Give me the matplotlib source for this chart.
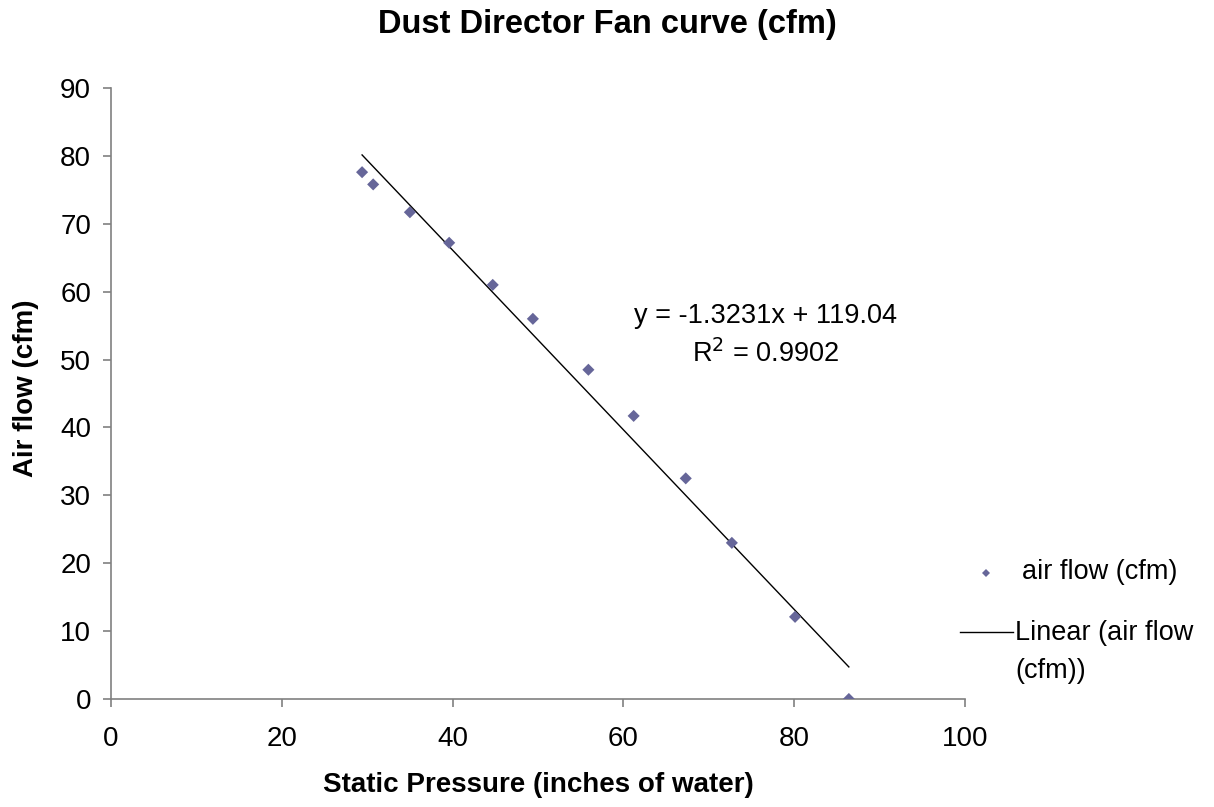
import numpy as np
from matplotlib import pyplot as plt
from matplotlib.lines import Line2D

plt.rcParams['font.family'] = ['Liberation Sans', 'DejaVu Sans']

# static pressure (inches of water) vs air flow (cfm)
pressure = [29.4, 30.7, 35.0, 39.6, 44.7, 49.4, 55.9, 61.2, 67.3, 72.7, 80.1, 86.4]
air_flow = [77.6, 75.8, 71.7, 67.2, 61.0, 56.0, 48.5, 41.7, 32.5, 23.0, 12.1, 0.0]

# trend line as reported in the chart
slope = -1.3231
intercept = 119.04
r_squared = 0.9902

gray = "#808080"
marker_color = "#666699"
W, H = 1214, 807

fig = plt.figure(figsize=(12.14, 8.07), dpi=100)
ax = fig.add_axes([111 / W, 108 / H, 854 / W, 611 / H])

ax.scatter(pressure, air_flow, marker="D", s=38, color=marker_color,
           edgecolors="none", zorder=3)

xs = np.array([min(pressure), max(pressure)])
ax.plot(xs, slope * xs + intercept, color="black", lw=1, zorder=2)

ax.text(76.6, 55.4, "y = %.4fx + %.2f" % (slope, intercept), ha="center",
        va="baseline", fontsize=19.5)
ax.text(76.6, 49.6, "R$^2$ = %.4f" % r_squared, ha="center", va="baseline",
        fontsize=19.5)

ax.set_xlim(0, 100)
ax.set_ylim(0, 90)
ax.set_xticks(range(0, 101, 20))
ax.set_yticks(range(0, 91, 10))
ax.tick_params(colors=gray, labelcolor="black", labelsize=20, length=5.8,
               width=1.2)
ax.tick_params(axis="x", pad=14)
ax.tick_params(axis="y", pad=8.5)
for s in ["top", "right"]:
    ax.spines[s].set_visible(False)
for s in ["left", "bottom"]:
    ax.spines[s].set_color(gray)
    ax.spines[s].set_linewidth(1.2)

ax.set_xlabel("Static Pressure (inches of water)", fontsize=20,
              fontweight="bold")
ax.xaxis.set_label_coords(0.5, (699 - 772) / 611)
ax.set_ylabel("Air flow (cfm)", fontsize=20, fontweight="bold")
ax.yaxis.set_label_coords((39 - 111) / 854, (699 - 388) / 611)
fig.text(0.5, 1 - 33 / H, "Dust Director Fan curve (cfm)", ha="center",
         va="baseline", fontsize=23.5, fontweight="bold")

# legend, laid out like the spreadsheet one
fig.add_artist(Line2D([986 / W], [1 - 573 / H], marker="D", markersize=3.8,
                      color=marker_color, markeredgewidth=0, linestyle="none"))
fig.text(1022 / W, 1 - 572 / H, "air flow (cfm)", fontsize=19.5, va="center")
fig.add_artist(Line2D([960 / W, 1013 / W], [1 - 632 / H, 1 - 632 / H],
                      color="black", lw=1))
fig.text(1015 / W, 1 - 633 / H, "Linear (air flow", fontsize=19.5,
         va="center")
fig.text(1015 / W, 1 - 671 / H, "(cfm))", fontsize=19.5, va="center")

fig.savefig("out.png", dpi=100)
